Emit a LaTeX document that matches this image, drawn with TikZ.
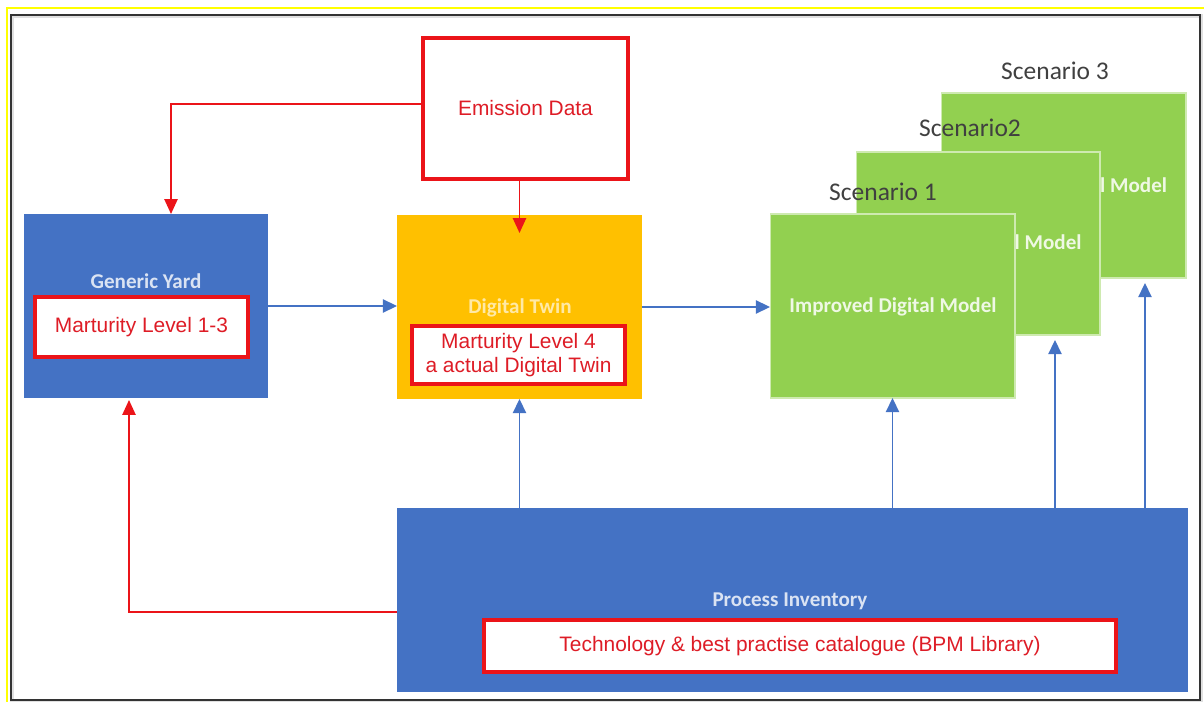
\documentclass[tikz,border=0pt]{standalone}
\usepackage{fontspec}
\setmainfont{Carlito}
\newfontfamily\arialfont{Liberation Sans}
\usetikzlibrary{arrows.meta,calc}

\definecolor{pblue}{HTML}{4472C4}
\definecolor{pyellow}{HTML}{FFC000}
\definecolor{pgreen}{HTML}{92D050}
\definecolor{pred}{RGB}{235,20,25}
\definecolor{ptext}{RGB}{222,28,38}
\definecolor{pgray}{HTML}{404040}
\definecolor{frameyellow}{HTML}{FFFF00}

\tikzset{
  block/.style={inner sep=0pt, outer sep=0pt},
  bluebox/.style={block, fill=pblue},
  yellowbox/.style={block, fill=pyellow},
  greenbox/.style={block, fill=pgreen, draw=white!55!pgreen, line width=0.6pt},
  redbox/.style={block, fill=white, draw=pred, line width=1.9pt,
    font=\arialfont\fontsize{11.9}{13.6}\selectfont, text=ptext, align=center},
  boxtitle/.style={font=\bfseries\fontsize{12}{13.5}\selectfont},
  scenlabel/.style={font=\fontsize{14.5}{16}\selectfont, text=pgray},
  bluearrow/.style={draw=pblue, line width=0.85pt, -{Triangle[length=8pt,width=7.5pt]}},
  redarrow/.style={draw=pred, line width=1.1pt, -{Triangle[length=8.5pt,width=7.5pt]}},
}

\begin{document}
\begin{tikzpicture}[x=0.02cm, y=-0.02cm]
\useasboundingbox (0,0) rectangle (1204,702);

% outer frames
\draw[frameyellow, line width=1.7pt] (7,702) -- (7,8) -- (1204,8);
\draw[black!12, line width=2.4pt] (12,16) rectangle (1201,701);
\draw[pgray!80!black, line width=1.3pt] (11,15) rectangle (1200,700);

% emission data
\node[redbox, minimum width=4.1cm, minimum height=2.82cm] (em) at (525.5,108.5) {Emission Data};

% generic yard
\node[bluebox, minimum width=4.88cm, minimum height=3.68cm] (gy) at (146,306) {};
\node[boxtitle, text=white!80!pblue] (gyt) at (146,281) {Generic Yard};
\node[redbox, minimum width=4.26cm, minimum height=1.2cm] (gym) at (141.5,327) {Marturity Level 1-3};

% digital twin
\node[yellowbox, minimum width=4.9cm, minimum height=3.68cm] (dt) at (519.5,307) {};
\node[boxtitle, text=white!65!pyellow] (dtt) at (520,308) {Digital Twin};
\node[redbox, minimum width=4.26cm, minimum height=1.16cm] (dtm) at (518.5,355)
  {Marturity Level 4\\a actual Digital Twin};

% scenarios, back to front
\node[scenlabel] (sl3) at (1055,71) {Scenario 3};
\node[greenbox, minimum width=4.9cm, minimum height=3.7cm] (s3) at (1063.5,185.5) {};
\node[boxtitle, text=white!85!pgreen] (s3t) at (1063.5,187) {Improved Digital Model};
\node[scenlabel] (sl2) at (970,128) {Scenario2};
\node[greenbox, minimum width=4.88cm, minimum height=3.66cm] (s2) at (978,243.5) {};
\node[boxtitle, text=white!85!pgreen] (s2t) at (978,244) {Improved Digital Model};
\node[scenlabel] (sl1) at (883,192) {Scenario 1};
\node[greenbox, minimum width=4.9cm, minimum height=3.68cm] (s1) at (892.5,306) {};
\node[boxtitle, text=white!85!pgreen] (s1t) at (893,307) {Improved Digital Model};

% process inventory
\node[bluebox, minimum width=15.82cm, minimum height=3.68cm] (pi) at (792.5,600) {};
\node[boxtitle, text=white!80!pblue] (pit) at (790,601) {Process Inventory};
\node[redbox, minimum width=12.64cm, minimum height=1.04cm] (pim) at (800,646)
  {Technology \& best practise catalogue (BPM Library)};

% blue flow
\draw[bluearrow] (gy.east) -- (gy.east -| dt.west);
\draw[bluearrow] (dt.east) -- (dt.east -| s1.west);
\draw[bluearrow] (dt.south |- pi.north) -- (dt.south);
\draw[bluearrow] (s1.south |- pi.north) -- (s1.south);
\coordinate (s2in) at ([xshift=-0.9cm, yshift=-0.1cm]s2.south east);
\coordinate (s3in) at ([xshift=-0.82cm, yshift=-0.1cm]s3.south east);
\draw[bluearrow] (s2in |- pi.north) -- (s2in);
\draw[bluearrow] (s3in |- pi.north) -- (s3in);

% red flow
\coordinate (gyin) at ([xshift=0.5cm]gy.north);
\draw[redarrow] ([yshift=0.09cm]em.west) -| (gyin);
\coordinate (dtin) at ([yshift=-0.36cm]dt.north);
\draw[redarrow] (dt.north |- em.south) -- (dtin);
\coordinate (gyback) at ([xshift=-0.34cm, yshift=-0.04cm]gy.south);
\draw[redarrow] ([yshift=-0.24cm]pi.west) -| (gyback);
\end{tikzpicture}
\end{document}
